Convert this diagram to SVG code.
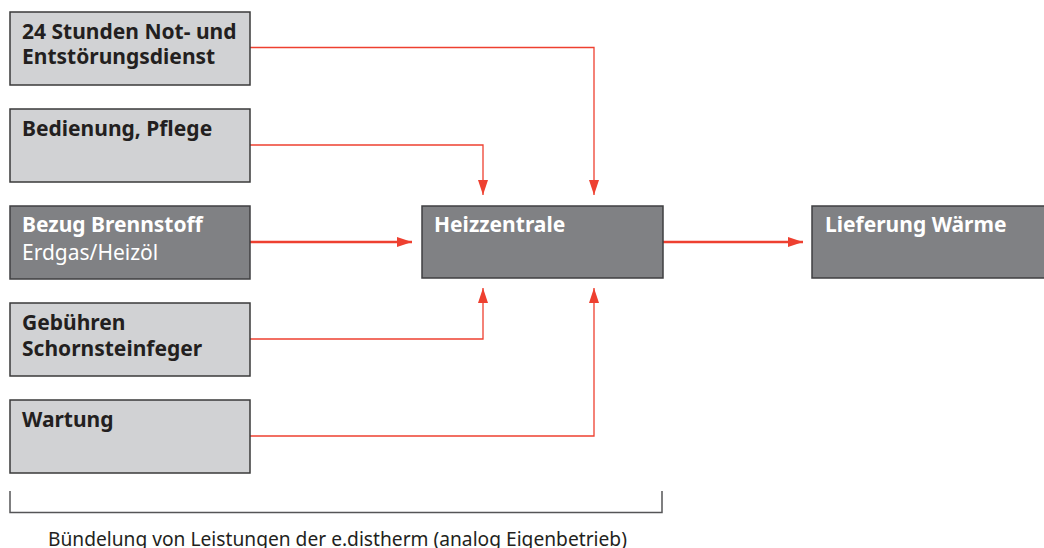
<svg xmlns="http://www.w3.org/2000/svg" width="1044" height="548" viewBox="0 0 1044 548">
<defs>
<marker id="ah" markerUnits="userSpaceOnUse" markerWidth="16" markerHeight="12" refX="15" refY="5" orient="auto">
<path d="M0,0 L15,5 L0,10 Z" fill="#ee4030"/>
</marker>
</defs>
<style>
.light{fill:#d1d2d4;stroke:#3a3a3a;stroke-width:1.5}
.dark{fill:#808184;stroke:#3f3f41;stroke-width:1.5}
.t{font-family:"Noto Sans","Open Sans","DejaVu Sans",sans-serif;font-size:21px}
.b{font-weight:bold}
.k{fill:#231f20}
.w{fill:#ffffff}
.c{fill:none;stroke:#ee4030;stroke-width:1.3}
.cb{fill:none;stroke:#ee4030;stroke-width:2.5}
</style>
<rect width="1044" height="548" fill="#ffffff"/>
<g id="connectors">
<polyline class="c" points="250,47.5 594,47.5 594,195" marker-end="url(#ah)"/>
<polyline class="c" points="250,145 483,145 483,195" marker-end="url(#ah)"/>
<polyline class="cb" points="250,242 412,242" marker-end="url(#ah)"/>
<polyline class="cb" points="663,242 803,242" marker-end="url(#ah)"/>
<polyline class="c" points="250,339 483,339 483,288" marker-end="url(#ah)"/>
<polyline class="c" points="250,436 594,436 594,288" marker-end="url(#ah)"/>
</g>
<g id="n1">
<rect class="light" x="10" y="12" width="240" height="73"/>
<text class="t b k" x="22" y="39">24 Stunden Not- und</text>
<text class="t b k" x="22" y="64">Entstörungsdienst</text>
</g>
<g id="n2">
<rect class="light" x="10" y="109" width="240" height="73"/>
<text class="t b k" x="22" y="136">Bedienung, Pflege</text>
</g>
<g id="n3">
<rect class="dark" x="10" y="206" width="240" height="73"/>
<text class="t b w" x="22" y="232">Bezug Brennstoff</text>
<text class="t w" x="22" y="260">Erdgas/Heizöl</text>
</g>
<g id="n4">
<rect class="light" x="10" y="303" width="240" height="73"/>
<text class="t b k" x="22" y="330">Gebühren</text>
<text class="t b k" x="22" y="356">Schornsteinfeger</text>
</g>
<g id="n5">
<rect class="light" x="10" y="400" width="240" height="73"/>
<text class="t b k" x="22" y="427">Wartung</text>
</g>
<g id="heizzentrale">
<rect class="dark" x="422" y="206" width="241" height="72"/>
<text class="t b w" x="434" y="232">Heizzentrale</text>
</g>
<g id="lieferung">
<rect class="dark" x="812" y="206" width="240" height="72"/>
<text class="t b w" x="825" y="232">Lieferung Wärme</text>
</g>
<g id="bracket">
<polyline points="10,491 10,512.5 662,512.5 662,491" fill="none" stroke="#555557" stroke-width="1.5"/>
<text class="t k" x="48" y="546" style="font-size:19.2px">Bündelung von Leistungen der e.distherm (analog Eigenbetrieb)</text>
</g>
</svg>
